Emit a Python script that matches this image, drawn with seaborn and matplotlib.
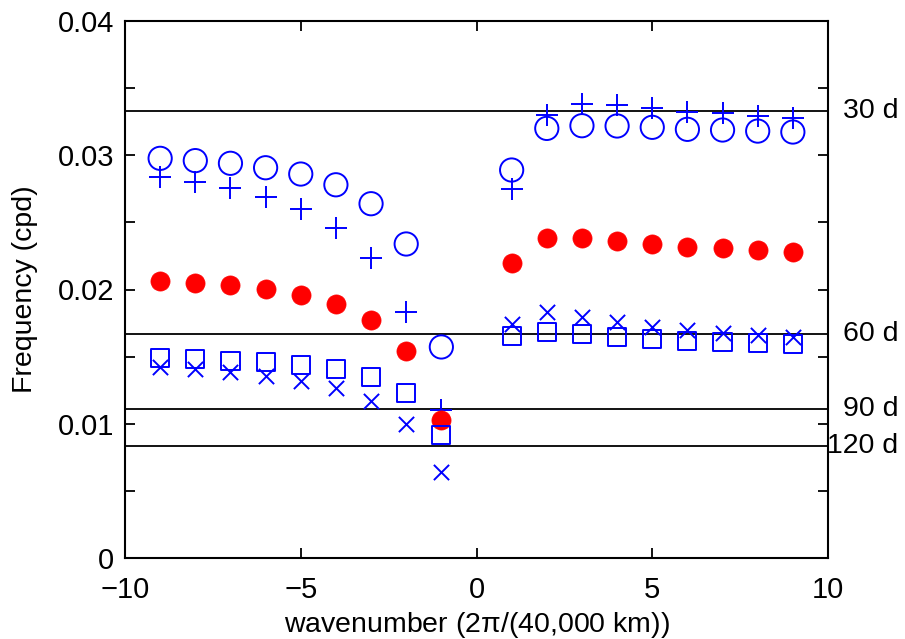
import matplotlib
matplotlib.use("Agg")
import matplotlib.pyplot as plt
from matplotlib.transforms import blended_transform_factory
import numpy as np
import seaborn as sns
import pandas as pd

# ===== valeurs =====
wavenumber = [-9, -8, -7, -6, -5, -4, -3, -2, -1, 1, 2, 3, 4, 5, 6, 7, 8, 9]

freq_circle = [0.02977, 0.02960, 0.02940, 0.02907, 0.02860, 0.02780, 0.02639, 0.02339, 0.01572,
               0.02890, 0.03200, 0.03220, 0.03218, 0.03208, 0.03193, 0.03188, 0.03180, 0.03173]
freq_plus = [0.02840, 0.02803, 0.02758, 0.02691, 0.02602, 0.02460, 0.02237, 0.01835, 0.01102,
             0.02749, 0.03300, 0.03380, 0.03372, 0.03350, 0.03325, 0.03313, 0.03292, 0.03275]
freq_red = [0.02066, 0.02051, 0.02031, 0.02001, 0.01957, 0.01890, 0.01773, 0.01544, 0.01028,
            0.02195, 0.02386, 0.02381, 0.02361, 0.02336, 0.02319, 0.02307, 0.02294, 0.02282]
freq_square = [0.01487, 0.01480, 0.01470, 0.01457, 0.01438, 0.01405, 0.01348, 0.01231, 0.00916,
               0.01654, 0.01686, 0.01666, 0.01644, 0.01629, 0.01619, 0.01611, 0.01604, 0.01596]
freq_cross = [0.01425, 0.01408, 0.01388, 0.01356, 0.01318, 0.01264, 0.01172, 0.00996, 0.00643,
              0.01741, 0.01835, 0.01798, 0.01756, 0.01723, 0.01698, 0.01678, 0.01661, 0.01644]

periods = [30, 60, 90, 120]
period_labels = ['30 d', '60 d', '90 d', '120 d']

donnees = pd.DataFrame({'k': wavenumber, 'circle': freq_circle, 'plus': freq_plus,
                        'red': freq_red, 'square': freq_square, 'cross': freq_cross})

# ===== style =====
sns.set_style("ticks")
plt.rcParams['font.family'] = ['Liberation Sans', 'DejaVu Sans']
plt.rcParams['mathtext.fontset'] = 'custom'
plt.rcParams['mathtext.rm'] = 'Liberation Sans'
plt.rcParams['mathtext.it'] = 'Liberation Sans'
plt.rcParams['text.color'] = 'black'
plt.rcParams['axes.labelcolor'] = 'black'

fig = plt.figure(figsize=(9.05, 6.39), dpi=100)
ax = fig.add_axes([125 / 905, 1 - 558 / 639, (828 - 125) / 905, (558 - 21) / 639])

for p in periods:
    ax.axhline(1 / p, color='black', lw=1.3, zorder=1)

sns.scatterplot(data=donnees, x='k', y='circle', ax=ax, marker='o', s=280,
                color='blue', facecolor='none', edgecolor='blue', linewidth=1.4, zorder=3)
sns.scatterplot(data=donnees, x='k', y='plus', ax=ax, marker='+', s=250,
                color='blue', linewidth=1.4, zorder=3)
sns.scatterplot(data=donnees, x='k', y='red', ax=ax, marker='o', s=190,
                color='red', edgecolor='red', linewidth=0.5, zorder=3)
sns.scatterplot(data=donnees, x='k', y='square', ax=ax, marker='s', s=170,
                color='blue', facecolor='none', edgecolor='blue', linewidth=1.4, zorder=3)
sns.scatterplot(data=donnees, x='k', y='cross', ax=ax, marker='x', s=120,
                color='blue', linewidth=1.4, zorder=3)

ax.set_xlim(-10, 10)
ax.set_ylim(0, 0.04)
ax.set_xticks([-10, -5, 0, 5, 10])
ax.set_xticklabels(['\u221210', '\u22125', '0', '5', '10'])
yt = np.arange(0, 0.0401, 0.005)
ax.set_yticks(yt)
ax.set_yticklabels(['0', '', '0.01', '', '0.02', '', '0.03', '', '0.04'])
ax.tick_params(direction='in', length=7, width=1.3, top=True, right=True,
               labelsize=21, colors='black')
ax.tick_params(axis='x', pad=13)
ax.tick_params(axis='y', pad=8)
for s in ax.spines.values():
    s.set_visible(True)
    s.set_linewidth(1.5)
    s.set_color('black')

ax.set_xlabel('wavenumber (2$\\pi$/(40,000 km))', fontsize=20.5, labelpad=4, color='black')
ax.set_ylabel('Frequency (cpd)', fontsize=20.5, labelpad=14, color='black')

trans = blended_transform_factory(fig.transFigure, ax.transData)
for p, lab in zip(periods, period_labels):
    ax.text(898 / 905, 1 / p, lab, transform=trans, ha='right', va='center',
            fontsize=20.5, color='black')

fig.savefig("out.png", dpi=100)
